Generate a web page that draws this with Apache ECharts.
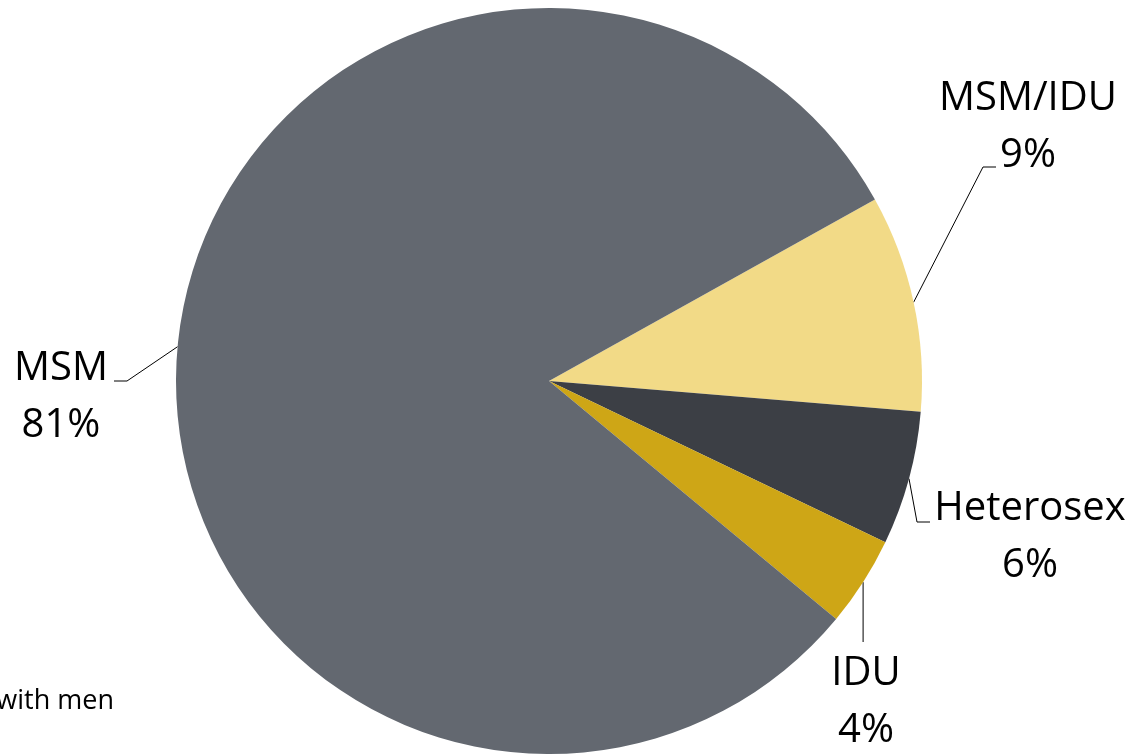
<!DOCTYPE html>
<html>
<head>
<meta charset="utf-8">
<script src="https://cdn.jsdelivr.net/npm/echarts@6/dist/echarts.min.js"></script>
<style>
html,body{margin:0;padding:0;background:#fff;}
#chart{width:1128px;height:754px;}
</style>
</head>
<body>
<div id="chart"></div>
<script>
// Data (clockwise from the MSM/IDU slice)
const categories = ['MSM/IDU', 'Heterosex', 'IDU', 'MSM'];
const values = [9.4, 5.8, 3.9, 80.9];
const colors = ['#F2DA87', '#3C3F45', '#CEA616', '#636870'];
const footnote = 'with men';

// Label placement (layout only)
const labelLayouts = [
  { x: 1028, y: 127, elbow: [983, 167], end: [996, 167] },
  { x: 1030, y: 537, elbow: [917, 522], end: [930, 522] },
  { x: 866, y: 702, elbow: null, endY: 642 },
  { x: 61, y: 397, elbow: [127, 381], end: [114, 381] }
];

const chart = echarts.init(document.getElementById('chart'), null, { renderer: 'canvas' });
const FONT = '"Open Sans", sans-serif';

chart.setOption({
  backgroundColor: '#ffffff',
  animation: false,
  graphic: [{
    type: 'text',
    right: 1128 - 114,
    top: 688,
    style: { text: footnote, font: '27px ' + FONT, fill: '#000' }
  }],
  series: [{
    type: 'pie',
    center: [549, 381],
    radius: 373,
    startAngle: 29.1,
    clockwise: true,
    data: categories.map((c, i) => ({ name: c, value: values[i], itemStyle: { color: colors[i] } })),
    label: {
      show: true,
      position: 'outside',
      formatter: p => p.name + '\n' + Math.round(p.value) + '%',
      fontFamily: FONT,
      fontSize: 40,
      lineHeight: 57,
      color: '#000',
      align: 'center',
      overflow: 'none'
    },
    labelLine: {
      show: true,
      length: 20,
      length2: 10,
      lineStyle: { color: '#000', width: 1 }
    },
    labelLayout: function (params) {
      const L = labelLayouts[params.dataIndex];
      const start = params.labelLinePoints[0];
      let pts;
      if (L.elbow) pts = [start, L.elbow, L.end];
      else pts = [start, [start[0], L.endY]];
      return {
        x: L.x,
        y: L.y,
        align: 'center',
        verticalAlign: 'middle',
        labelLinePoints: pts
      };
    }
  }]
});
</script>
</body>
</html>
